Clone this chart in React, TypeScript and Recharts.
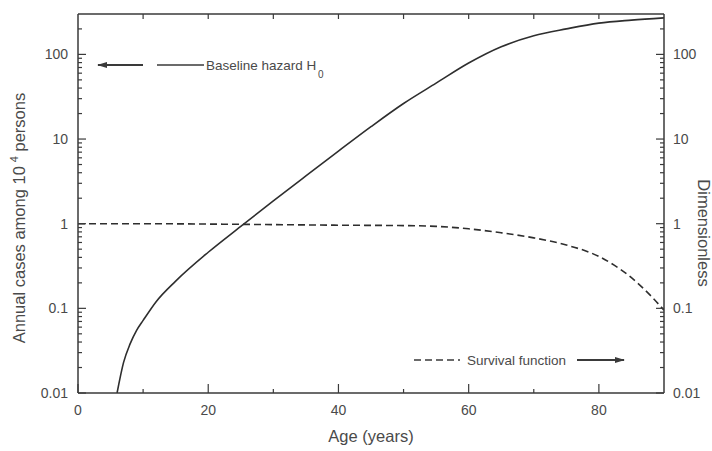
import { LineChart, Line, XAxis, YAxis } from "recharts";

// Baseline hazard H0 (annual cases among 10^4 persons)
const hazardAges = [6, 7, 8, 9, 10, 12, 15, 20, 25, 30, 35, 40, 45, 50, 55, 60, 65, 70, 75, 80, 85, 90];
const hazardValues = [0.01, 0.023, 0.038, 0.055, 0.072, 0.12, 0.21, 0.46, 0.93, 1.86, 3.67, 7.2, 14, 26.3, 45.7, 79, 123, 166, 200, 234, 254, 270];

// Survival function (dimensionless)
const survivalAges = [0, 10, 20, 30, 40, 50, 55, 60, 65, 70, 75, 80, 85, 88, 90];
const survivalValues = [1.0, 1.0, 0.99, 0.975, 0.96, 0.95, 0.93, 0.87, 0.78, 0.68, 0.56, 0.41, 0.23, 0.14, 0.095];

const ageTicks = [0, 10, 20, 30, 40, 50, 60, 70, 80];
const ageLabelTicks = [0, 20, 40, 60, 80];
const decadeTicks = [0.01, 0.1, 1, 10, 100];
const minorSteps = [2, 3, 4, 5, 6, 7, 8, 9];
const logTicks = [
  ...decadeTicks,
  ...decadeTicks.flatMap((d) => minorSteps.map((m) => Number((d * m).toPrecision(3)))).filter((v) => v <= 200),
];

const hazardData = hazardAges.map((age, i) => ({ age, value: hazardValues[i] }));
const survivalData = survivalAges.map((age, i) => ({ age, value: survivalValues[i] }));

const INK = "#3a3a3a";
const TEXT = "#4a4a4a";
const FONT = "'Liberation Sans', Arial, sans-serif";

const LeftTick = (props: any) => {
  const { x, y, payload } = props;
  const major = decadeTicks.includes(payload.value);
  return (
    <g>
      <line x1={x} x2={x + (major ? 8 : 4)} y1={y} y2={y} stroke={INK} strokeWidth={1.2} />
      {major && (
        <text x={x - 10} y={y + 5} textAnchor="end" fontSize={14} fill={TEXT} fontFamily={FONT}>
          {String(payload.value)}
        </text>
      )}
    </g>
  );
};

const RightTick = (props: any) => {
  const { x, y, payload } = props;
  const major = decadeTicks.includes(payload.value);
  return (
    <g>
      <line x1={x} x2={x - (major ? 8 : 4)} y1={y} y2={y} stroke={INK} strokeWidth={1.2} />
      {major && (
        <text x={x + 9} y={y + 5} textAnchor="start" fontSize={14} fill={TEXT} fontFamily={FONT}>
          {String(payload.value)}
        </text>
      )}
    </g>
  );
};

const BottomTick = (props: any) => {
  const { x, y, payload } = props;
  const major = ageLabelTicks.includes(payload.value);
  return (
    <g>
      <line x1={x} x2={x} y1={y} y2={y - (major ? 9 : 4)} stroke={INK} strokeWidth={1.2} />
      {major && (
        <text x={x} y={y + 22} textAnchor="middle" fontSize={14} fill={TEXT} fontFamily={FONT}>
          {String(payload.value)}
        </text>
      )}
    </g>
  );
};

const TopTick = (props: any) => {
  const { x, y } = props;
  return <line x1={x} x2={x} y1={y} y2={y + 5} stroke={INK} strokeWidth={1.2} />;
};

export default function App() {
  return (
    <div style={{ position: "absolute", left: 0, top: 0, width: 712, height: 451, background: "#fff" }}>
      <LineChart width={712} height={451} margin={{ top: 0, right: 0, bottom: 0, left: 0 }}>
        <XAxis
          dataKey="age"
          type="number"
          domain={[0, 90]}
          ticks={ageTicks}
          interval={0}
          allowDataOverflow
          height={58}
          tickSize={0}
          tickMargin={0}
          tick={<BottomTick />}
          axisLine={{ stroke: INK, strokeWidth: 1.5 }}
          tickLine={false}
        />
        <XAxis
          xAxisId="top"
          orientation="top"
          dataKey="age"
          type="number"
          domain={[0, 90]}
          ticks={ageTicks.filter((t) => t > 0)}
          interval={0}
          allowDataOverflow
          height={14}
          tickSize={0}
          tickMargin={0}
          tick={<TopTick />}
          axisLine={{ stroke: INK, strokeWidth: 1.5 }}
          tickLine={false}
        />
        <YAxis
          yAxisId="left"
          scale="log"
          type="number"
          domain={[0.01, 300]}
          allowDataOverflow
          ticks={logTicks}
          interval={0}
          width={78}
          tickSize={0}
          tickMargin={0}
          tick={<LeftTick />}
          axisLine={{ stroke: INK, strokeWidth: 1.5 }}
          tickLine={false}
        />
        <YAxis
          yAxisId="right"
          orientation="right"
          scale="log"
          type="number"
          domain={[0.01, 300]}
          allowDataOverflow
          ticks={logTicks}
          interval={0}
          width={48}
          tickSize={0}
          tickMargin={0}
          tick={<RightTick />}
          axisLine={{ stroke: INK, strokeWidth: 1.5 }}
          tickLine={false}
        />
        <Line
          yAxisId="left"
          data={hazardData}
          dataKey="value"
          type="monotone"
          stroke="#2e2e2e"
          strokeWidth={1.6}
          dot={false}
          isAnimationActive={false}
        />
        <Line
          yAxisId="right"
          data={survivalData}
          dataKey="value"
          type="monotone"
          stroke="#2e2e2e"
          strokeWidth={1.6}
          strokeDasharray="7 4"
          dot={false}
          isAnimationActive={false}
        />
      </LineChart>
      <svg
        width={712}
        height={451}
        style={{ position: "absolute", left: 0, top: 0, pointerEvents: "none" }}
        fontFamily={FONT}
      >
        <defs>
          <marker id="arrow" markerWidth="10" markerHeight="8" refX="9" refY="4" orient="auto" markerUnits="userSpaceOnUse">
            <path d="M0,1 L10,4 L0,7 Z" fill={INK} />
          </marker>
        </defs>
        {/* hazard annotation */}
        <line x1={143} y1={65} x2={98} y2={65} stroke={INK} strokeWidth={2} markerEnd="url(#arrow)" />
        <line x1={157} y1={65} x2={204} y2={65} stroke={INK} strokeWidth={1.4} />
        <text x={206} y={70} fontSize={13.5} fill={TEXT}>
          Baseline hazard H
        </text>
        <text x={318} y={78} fontSize={10} fill={TEXT}>
          0
        </text>
        {/* survival annotation */}
        <line x1={414} y1={360} x2={460} y2={360} stroke={INK} strokeWidth={1.4} strokeDasharray="7 4" />
        <text x={467} y={365} fontSize={13.5} fill={TEXT}>
          Survival function
        </text>
        <line x1={577} y1={360} x2={624} y2={360} stroke={INK} strokeWidth={2} markerEnd="url(#arrow)" />
        {/* axis titles */}
        <text x={371} y={442} textAnchor="middle" fontSize={16.5} fill={TEXT}>
          Age (years)
        </text>
        <text transform="translate(25,218) rotate(-90)" textAnchor="middle" fontSize={16.5} fill={TEXT}>
          Annual cases among 10
          <tspan dx={4} dy={-7} fontSize={11}>4</tspan>
          <tspan dy={7}> persons</tspan>
        </text>
        <text transform="translate(698,233) rotate(90)" textAnchor="middle" fontSize={16.5} fill={TEXT}>
          Dimensionless
        </text>
      </svg>
    </div>
  );
}
